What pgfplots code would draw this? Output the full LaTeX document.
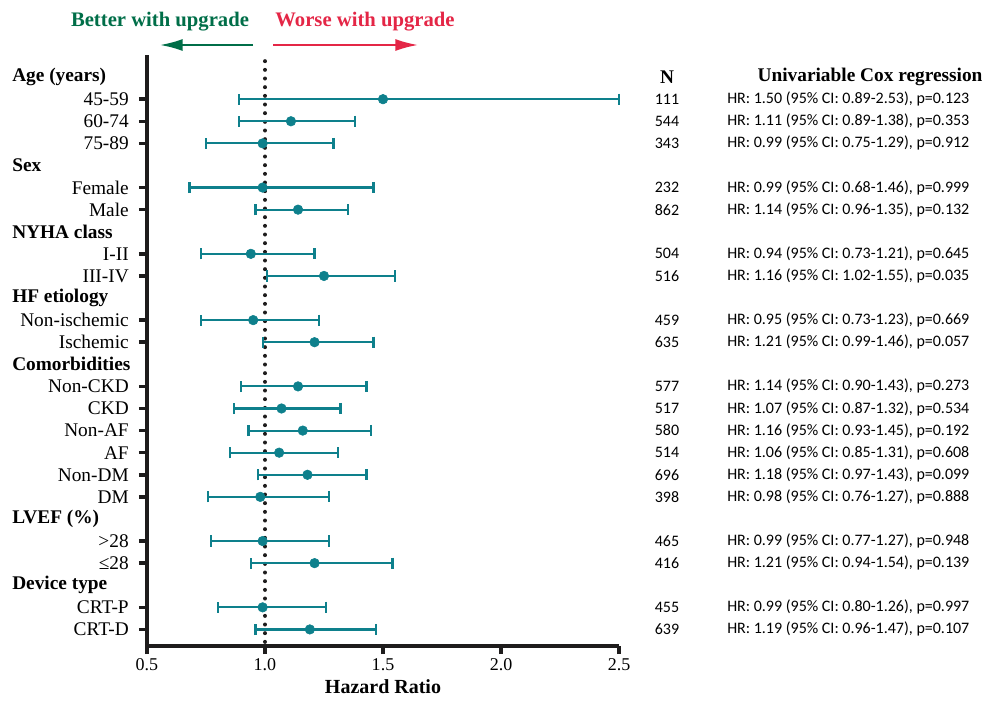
\documentclass[border=0pt]{standalone}
\usepackage{fontspec}
\setmainfont{Liberation Serif}
\newfontfamily\calfont{Carlito}
\usepackage{pgfplots}
\usepackage{pgfplotstable}
\pgfplotsset{compat=1.18}
\usetikzlibrary{arrows.meta}
\definecolor{teal}{RGB}{14,128,140}
\definecolor{bgreen}{RGB}{0,110,72}
\definecolor{wred}{RGB}{228,38,70}
\definecolor{axblack}{RGB}{30,28,28}

\pgfplotstableread{
row hr lo hi
1 1.50 0.89 2.50
2 1.11 0.89 1.38
3 0.99 0.75 1.29
5 0.99 0.68 1.46
6 1.14 0.96 1.35
8 0.94 0.73 1.21
9 1.25 1.01 1.55
11 0.95 0.73 1.23
12 1.21 0.99 1.46
14 1.14 0.90 1.43
15 1.07 0.87 1.32
16 1.16 0.93 1.45
17 1.06 0.85 1.31
18 1.18 0.97 1.43
19 0.98 0.76 1.27
21 0.99 0.77 1.27
22 1.21 0.94 1.54
24 0.99 0.80 1.26
25 1.19 0.96 1.47
}\hrdata

\newcommand{\lab}{\fontsize{14.5}{17}\selectfont}
\newcommand{\rt}{\calfont\fontsize{12}{14}\selectfont}
\newcommand{\rrow}[3]{%
  \node[font=\rt, inner sep=0pt, xshift=390pt] at (axis cs:0.5,-#1) {#2};
  \node[font=\rt, inner sep=0pt, anchor=west, xshift=435pt] at (axis cs:0.5,-#1) {#3};
}

\begin{document}
\begin{tikzpicture}
\useasboundingbox (-110.25pt,-51.75pt) rectangle (642pt,484.5pt);
\begin{axis}[
  name=ax, at={(0,0)}, anchor=south west,
  width=354pt, height=443.25pt, scale only axis,
  xmin=0.5, xmax=2.5, ymin=-25.75, ymax=1,
  axis x line*=bottom, axis y line*=left,
  axis line style={line width=2.6pt, axblack},
  xtick={0.5,1,1.5,2,2.5},
  xticklabels={0.5,1.0,1.5,2.0,2.5},
  ytick={-1,-2,-3,-5,-6,-8,-9,-11,-12,-14,-15,-16,-17,-18,-19,-21,-22,-24,-25},
  yticklabels={45-59,60-74,75-89,Female,Male,I-II,III-IV,Non-ischemic,Ischemic,Non-CKD,CKD,Non-AF,AF,Non-DM,DM,>28,≤28,CRT-P,CRT-D},
  tick align=outside, major tick length=6pt,
  tick style={line width=2.6pt, axblack},
  y tick label style={font=\lab, inner sep=0pt, xshift=-7.5pt},
  x tick label style={font=\fontsize{13.5}{16}\selectfont},
  xlabel={\textbf{Hazard Ratio}},
  xlabel style={font=\fontsize{15}{18}\selectfont},
  clip=false,
]
\draw[line width=3pt, dash pattern=on 0pt off 6.5pt, line cap=round, axblack]
  (axis cs:1,0.72) -- (axis cs:1,-25.75);
\addplot[only marks, mark=*, mark size=3.6pt, teal,
  error bars/.cd, x dir=both, x explicit, error mark=|,
  error bar style={line width=1.6pt, teal},
  error mark options={line width=1.6pt, mark size=4.2pt, teal}]
  table[x=hr, y expr=-\thisrow{row},
        x error plus expr=\thisrow{hi}-\thisrow{hr},
        x error minus expr=\thisrow{hr}-\thisrow{lo}] {\hrdata};
% group headers
\foreach \r/\t in {0/Age (years),4/Sex,7/NYHA class,10/HF etiology,13/Comorbidities,20/LVEF (\%),23/Device type}{
  \edef\tmp{\noexpand\node[anchor=west, font=\noexpand\lab\noexpand\bfseries, inner sep=0pt, xshift=-101.25pt] at (axis cs:0.5,-\r) {\t};}
  \tmp
}
% right column headers
\node[font=\lab\bfseries, inner sep=0pt, xshift=390pt] at (axis cs:0.5,0) {N};
\node[font=\lab\bfseries, inner sep=0pt, xshift=542.25pt] at (axis cs:0.5,0) {Univariable Cox regression};
\rrow{1}{111}{HR: 1.50 (95\% CI: 0.89-2.53), p=0.123}
\rrow{2}{544}{HR: 1.11 (95\% CI: 0.89-1.38), p=0.353}
\rrow{3}{343}{HR: 0.99 (95\% CI: 0.75-1.29), p=0.912}
\rrow{5}{232}{HR: 0.99 (95\% CI: 0.68-1.46), p=0.999}
\rrow{6}{862}{HR: 1.14 (95\% CI: 0.96-1.35), p=0.132}
\rrow{8}{504}{HR: 0.94 (95\% CI: 0.73-1.21), p=0.645}
\rrow{9}{516}{HR: 1.16 (95\% CI: 1.02-1.55), p=0.035}
\rrow{11}{459}{HR: 0.95 (95\% CI: 0.73-1.23), p=0.669}
\rrow{12}{635}{HR: 1.21 (95\% CI: 0.99-1.46), p=0.057}
\rrow{14}{577}{HR: 1.14 (95\% CI: 0.90-1.43), p=0.273}
\rrow{15}{517}{HR: 1.07 (95\% CI: 0.87-1.32), p=0.534}
\rrow{16}{580}{HR: 1.16 (95\% CI: 0.93-1.45), p=0.192}
\rrow{17}{514}{HR: 1.06 (95\% CI: 0.85-1.31), p=0.608}
\rrow{18}{696}{HR: 1.18 (95\% CI: 0.97-1.43), p=0.099}
\rrow{19}{398}{HR: 0.98 (95\% CI: 0.76-1.27), p=0.888}
\rrow{21}{465}{HR: 0.99 (95\% CI: 0.77-1.27), p=0.948}
\rrow{22}{416}{HR: 1.21 (95\% CI: 0.94-1.54), p=0.139}
\rrow{24}{455}{HR: 0.99 (95\% CI: 0.80-1.26), p=0.997}
\rrow{25}{639}{HR: 1.19 (95\% CI: 0.96-1.47), p=0.107}
\end{axis}
% bottom axis line drawn again through the axis node
\draw[line width=2.6pt, axblack] (ax.south west) -- (ax.south east);
% top annotations
\node[font=\fontsize{15.5}{18}\selectfont\bfseries, text=bgreen, inner sep=0pt] at (9.75pt,468pt) {Better with upgrade};
\node[font=\fontsize{15.5}{18}\selectfont\bfseries, text=wred, inner sep=0pt] at (163.5pt,468pt) {Worse with upgrade};
\draw[bgreen, line width=1.5pt, -{Latex[length=17pt,width=9pt]}] (79.5pt,450.75pt) -- (9.75pt,450.75pt);
\draw[wred, line width=1.5pt, -{Latex[length=17pt,width=9pt]}] (94.5pt,450.75pt) -- (203.25pt,450.75pt);
\end{tikzpicture}
\end{document}
